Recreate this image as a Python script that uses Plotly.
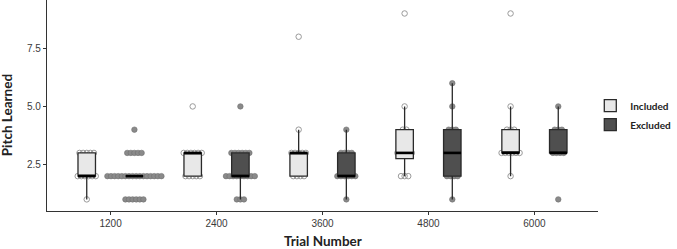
import numpy as np
import plotly.graph_objects as go

# ---- data ----
trials = ["1200", "2400", "3600", "4800", "6000"]

inc_1200 = [1, 2, 2, 2, 2, 2, 2, 3, 3, 3, 3, 3]
inc_2400 = [2, 2, 2, 2, 2, 3, 3, 3, 3, 3, 3, 5]
inc_3600 = [2, 2, 2, 2, 3, 3, 3, 3, 3, 4, 8]
inc_4800 = [2, 2, 2, 3, 3, 3, 3, 3, 4, 4, 5, 9]
inc_6000 = [2, 3, 3, 3, 3, 3, 3, 4, 4, 4, 5, 9]

exc_1200 = [1] * 6 + [2] * 16 + [3] * 5 + [4]
exc_2400 = [1, 1, 1] + [2] * 9 + [3] * 6 + [5]
exc_3600 = [1, 2, 2, 2, 2, 2, 2, 3, 3, 3, 3, 4]
exc_4800 = [1, 2, 2, 2, 2, 3, 3, 3, 4, 4, 4, 5, 6]
exc_6000 = [1, 3, 3, 3, 3, 4, 4, 4, 5]

included = [inc_1200, inc_2400, inc_3600, inc_4800, inc_6000]
excluded = [exc_1200, exc_2400, exc_3600, exc_4800, exc_6000]

groups = [
    ("Included", included, -0.225, "#e8e8e8"),
    ("Excluded", excluded, 0.225, "#4f4f4f"),
]

BOX_W = 0.165
DOT_GAP = 0.034
XR = [0.4, 5.6]
YR = [0.5, 9.58]

fig = go.Figure()

# points on the base axes
for name, series, off, fill in groups:
    xs, ys = [], []
    for i, vals in enumerate(series):
        centre = i + 1 + off
        vals = np.array(vals)
        for v in np.unique(vals):
            k = int((vals == v).sum())
            for j in range(k):
                xs.append(centre + (j - (k - 1) / 2) * DOT_GAP)
                ys.append(v)
    if name == "Included":
        marker = dict(symbol="circle-open", size=5.5, color="#9a9a9a",
                      line=dict(width=1, color="#9a9a9a"))
    else:
        marker = dict(symbol="circle", size=5.5, color="#8a8a8a",
                      line=dict(width=0.6, color="#6e6e6e"))
    fig.add_trace(go.Scatter(x=xs, y=ys, mode="markers", marker=marker,
                             showlegend=False, hoverinfo="skip"))

# boxes on overlaying axes so they sit above the points
for name, series, off, fill in groups:
    for i, vals in enumerate(series):
        v = np.array(vals, dtype=float)
        q1, med, q3 = np.percentile(v, [25, 50, 75])
        iqr = q3 - q1
        lo = v[v >= q1 - 1.5 * iqr].min()
        hi = v[v <= q3 + 1.5 * iqr].max()
        pos = i + 1 + off
        fig.add_trace(go.Box(
            x=[pos], q1=[q1], median=[med], q3=[q3],
            lowerfence=[lo], upperfence=[hi],
            width=BOX_W, whiskerwidth=0, boxpoints=False,
            fillcolor=fill, line=dict(color="#2a2a2a", width=1.3),
            name=name, legendgroup=name, showlegend=(i == 0),
            hoverinfo="skip", xaxis="x2", yaxis="y2",
        ))
        fig.add_trace(go.Scatter(
            x=[pos - BOX_W / 2, pos + BOX_W / 2], y=[med, med],
            mode="lines", line=dict(color="#000000", width=2.6),
            showlegend=False, hoverinfo="skip", xaxis="x2", yaxis="y2",
        ))

W, H = 677, 249
L, R, T, B = 47.3, 79.3, 0, 38.3
ph = H - T - B
pw = W - L - R

axis_common = dict(showgrid=False, zeroline=False, showline=True,
                   linecolor="#333333", linewidth=1.1,
                   ticks="outside", ticklen=3, tickcolor="#333333", tickwidth=1.1,
                   tickfont=dict(size=10, color="#3a3a3a"))

fig.update_layout(
    width=W, height=H,
    margin=dict(l=L, r=R, t=T, b=B, pad=0, autoexpand=False),
    plot_bgcolor="white", paper_bgcolor="white",
    font=dict(family="Liberation Sans, Arial, sans-serif", size=10, color="#3a3a3a"),
    xaxis=dict(range=XR, tickmode="array", tickvals=[1, 2, 3, 4, 5], ticktext=trials,
               **axis_common),
    yaxis=dict(range=YR, tick0=0, dtick=2.5, tickformat=".1f", **axis_common),
    xaxis2=dict(range=XR, overlaying="x", visible=False),
    yaxis2=dict(range=YR, overlaying="y", visible=False),
    showlegend=True,
    legend=dict(
        x=(590 - L) / pw, xanchor="left",
        y=(ph - 115) / ph, yanchor="middle",
        font=dict(family="Lato, sans-serif", size=10, color="#222222", weight="bold"),
        bgcolor="rgba(0,0,0,0)", itemwidth=30, tracegroupgap=0,
    ),
    annotations=[
        dict(text="Trial Number", xref="paper", yref="paper",
             x=0.5, y=(ph - 241) / ph, xanchor="center", yanchor="middle",
             showarrow=False,
             font=dict(family="Lato, sans-serif", size=13.5, color="#222222", weight="bold")),
        dict(text="Pitch Learned", xref="paper", yref="paper",
             x=(7.5 - L) / pw, y=(ph - 115) / ph, xanchor="center", yanchor="middle",
             textangle=-90, showarrow=False,
             font=dict(family="Lato, sans-serif", size=13.5, color="#222222", weight="bold")),
    ],
)

fig.write_html("out.html")
